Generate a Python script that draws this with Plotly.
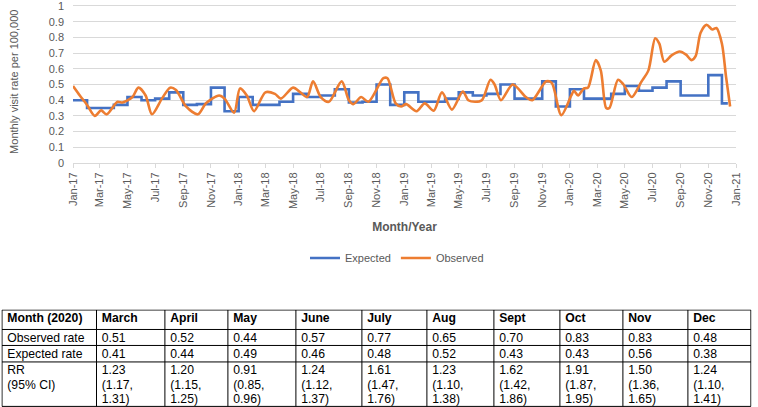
"""
Monthly visit rate per 100,000: expected vs observed (2017-2020),
with the 2020 rate ratio table underneath.
"""

import plotly.graph_objects as go

# ---- line chart data -------------------------------------------------------
month_starts = [f"{y}-{m:02d}-01" for y in range(2017, 2021) for m in range(1, 13)]

expected_monthly = [
    0.40, 0.35, 0.35, 0.37, 0.42, 0.40, 0.41, 0.45, 0.37, 0.375, 0.48, 0.33,  # 2017
    0.42, 0.37, 0.37, 0.39, 0.44, 0.42, 0.43, 0.47, 0.385, 0.39, 0.50, 0.37,  # 2018
    0.45, 0.39, 0.39, 0.41, 0.45, 0.43, 0.44, 0.50, 0.41, 0.41, 0.52, 0.36,   # 2019
    0.47, 0.41, 0.41, 0.44, 0.49, 0.46, 0.48, 0.52, 0.43, 0.43, 0.56, 0.38,   # 2020
]
expected_end = "2020-12-14"   # last week with data

observed_dates = [
    "2017-01-01", "2017-01-16", "2017-02-01", "2017-02-18", "2017-03-04", "2017-03-16",
    "2017-04-09", "2017-04-20", "2017-05-12", "2017-05-25", "2017-06-10", "2017-06-24",
    "2017-07-16", "2017-08-03", "2017-08-16", "2017-09-07", "2017-10-03", "2017-10-21",
    "2017-11-19", "2017-12-01", "2017-12-22",
    "2018-01-04", "2018-01-19", "2018-02-04", "2018-03-01", "2018-03-22", "2018-04-04",
    "2018-05-01", "2018-05-17", "2018-06-01", "2018-06-14", "2018-07-01", "2018-07-19",
    "2018-08-16", "2018-09-01", "2018-09-11", "2018-09-28", "2018-10-14", "2018-11-16",
    "2018-11-25", "2018-12-13", "2018-12-25",
    "2019-01-05", "2019-01-28", "2019-02-15", "2019-03-07", "2019-03-25", "2019-04-16",
    "2019-05-10", "2019-05-22", "2019-06-06", "2019-06-21", "2019-07-10", "2019-07-19",
    "2019-08-02", "2019-08-28", "2019-09-26", "2019-10-10", "2019-11-10", "2019-11-22",
    "2019-12-13",
    "2020-01-04", "2020-01-10", "2020-01-19", "2020-02-01", "2020-02-10", "2020-02-27",
    "2020-03-09", "2020-03-21", "2020-03-28", "2020-04-16", "2020-04-28", "2020-05-16",
    "2020-06-07", "2020-06-22", "2020-07-07", "2020-07-16", "2020-07-27", "2020-08-12",
    "2020-08-30", "2020-09-13", "2020-09-25", "2020-10-04", "2020-10-15", "2020-10-28",
    "2020-11-10", "2020-11-19", "2020-12-01", "2020-12-10", "2020-12-19",
]
observed_values = [
    0.49, 0.43, 0.37, 0.30, 0.335, 0.31,
    0.39, 0.385, 0.42, 0.48, 0.43, 0.31,
    0.41, 0.48, 0.465, 0.36, 0.31, 0.38,
    0.43, 0.41, 0.32,
    0.475, 0.43, 0.33, 0.45, 0.44, 0.41,
    0.48, 0.45, 0.42, 0.52, 0.42, 0.39,
    0.52, 0.40, 0.375, 0.42, 0.39, 0.54,
    0.54, 0.38, 0.36,
    0.375, 0.33, 0.38, 0.333, 0.45, 0.34,
    0.455, 0.40, 0.39, 0.40, 0.53, 0.50,
    0.40, 0.50, 0.42, 0.40, 0.52, 0.51,
    0.305,
    0.43, 0.46, 0.43, 0.475, 0.48, 0.655,
    0.59, 0.35, 0.35, 0.53, 0.50, 0.42,
    0.52, 0.59, 0.795, 0.76, 0.645, 0.685,
    0.71, 0.69, 0.655, 0.68, 0.83, 0.88,
    0.85, 0.86, 0.76, 0.55, 0.36,
]

# ---- table data ------------------------------------------------------------
table_months = ["March", "April", "May", "June", "July", "Aug", "Sept", "Oct", "Nov", "Dec"]
observed_rate = [0.51, 0.52, 0.44, 0.57, 0.77, 0.65, 0.70, 0.83, 0.83, 0.48]
expected_rate = [0.41, 0.44, 0.49, 0.46, 0.48, 0.52, 0.43, 0.43, 0.56, 0.38]
rr = [1.23, 1.20, 0.91, 1.24, 1.61, 1.23, 1.62, 1.91, 1.50, 1.24]
rr_low = [1.17, 1.15, 0.85, 1.12, 1.47, 1.10, 1.42, 1.87, 1.36, 1.10]
rr_high = [1.31, 1.25, 0.96, 1.37, 1.76, 1.38, 1.86, 1.95, 1.65, 1.41]

# ---- styling ---------------------------------------------------------------
BLUE = "#4472C4"
ORANGE = "#ED7D31"
TEXT = "#595959"
GRID = "#D9D9D9"
FONT = "Liberation Sans, Arial, sans-serif"

W, H = 758, 407
PLOT_L, PLOT_R, PLOT_BOTTOM = 73, 736, 163     # px
PX_PER_UNIT = 157                              # px for 1.0 on the y axis
Y_MAX = 1.035
TABLE_TOP = 310
COL_W = [94.5, 68.4, 63, 68, 66, 65, 67, 66, 63, 65, 63]
ROW_H = [19.5, 16, 16.5, 44.5]
PAD_X, PAD_Y, LINE_H = 5.3, 3, 14.5

fig = go.Figure()

# expected: one level per month
fig.add_trace(go.Scatter(
    x=month_starts + [expected_end],
    y=expected_monthly + [expected_monthly[-1]],
    mode="lines",
    name="Expected",
    line=dict(color=BLUE, width=2.6, shape="hv"),
    hoverinfo="skip",
))

# observed: smoothed line
fig.add_trace(go.Scatter(
    x=observed_dates,
    y=observed_values,
    mode="lines",
    name="Observed",
    line=dict(color=ORANGE, width=2.6, shape="spline", smoothing=0.8),
    hoverinfo="skip",
))

# ---- table on its own pixel-unit axes --------------------------------------
header = ["<b>Month (2020)</b>"] + [f"<b>{m}</b>" for m in table_months]
columns = [["Observed rate", "Expected rate", "RR<br>(95% CI)"]]
for o, e, r, lo, hi in zip(observed_rate, expected_rate, rr, rr_low, rr_high):
    columns.append([f"{o:.2f}", f"{e:.2f}", f"{r:.2f}<br>({lo:.2f},<br>{hi:.2f})"])

col_edges = [0]
for w in COL_W:
    col_edges.append(col_edges[-1] + w)
row_edges = [0]
for h in ROW_H:
    row_edges.append(row_edges[-1] + h)
table_w, table_h = col_edges[-1], row_edges[-1]

grid_x, grid_y = [], []
for ry in row_edges:
    grid_x += [0, table_w, None]
    grid_y += [ry, ry, None]
for cx in col_edges:
    grid_x += [cx, cx, None]
    grid_y += [0, table_h, None]

fig.add_trace(go.Scatter(
    x=grid_x, y=grid_y, xaxis="x2", yaxis="y2",
    mode="lines", line=dict(color="black", width=1),
    showlegend=False, hoverinfo="skip",
))

txt_x, txt_y, txt = [], [], []
rows = [header] + [[col[i] for col in columns] for i in range(3)]
for ri, row in enumerate(rows):
    for ci, cell in enumerate(row):
        for li, line in enumerate(cell.split("<br>")):
            txt_x.append(col_edges[ci] + PAD_X)
            txt_y.append(row_edges[ri] + PAD_Y + li * LINE_H)
            txt.append(line)

fig.add_trace(go.Scatter(
    x=txt_x, y=txt_y, text=txt, xaxis="x2", yaxis="y2",
    mode="text", textposition="bottom right",
    textfont=dict(family=FONT, size=12.2, color="black"),
    showlegend=False, hoverinfo="skip",
))

plot_top = PLOT_BOTTOM - Y_MAX * PX_PER_UNIT

fig.update_layout(
    width=W, height=H,
    margin=dict(l=0, r=0, t=0, b=0),
    paper_bgcolor="white",
    plot_bgcolor="white",
    font=dict(family=FONT, size=11, color=TEXT),
    showlegend=True,
    legend=dict(
        orientation="h",
        x=397 / W, xanchor="center",
        y=1 - 258 / H, yanchor="middle",
        font=dict(size=11, color=TEXT),
        itemwidth=30,
    ),
    xaxis=dict(
        domain=[PLOT_L / W, PLOT_R / W],
        type="date",
        range=["2017-01-01", "2021-01-01"],
        dtick="M2",
        tick0="2017-01-01",
        tickformat="%b-%y",
        tickangle=-90,
        ticks="outside",
        ticklen=4,
        tickcolor=GRID,
        showline=True,
        linecolor=GRID,
        showgrid=False,
        automargin=False,
        fixedrange=True,
        tickfont=dict(size=11, color=TEXT),
        title=dict(text="<b>Month/Year</b>", font=dict(size=12, color=TEXT), standoff=14),
    ),
    yaxis=dict(
        domain=[1 - PLOT_BOTTOM / H, 1 - max(plot_top, 0) / H],
        range=[0, Y_MAX],
        tick0=0,
        dtick=0.1,
        ticklabeloverflow="allow",
        showgrid=True,
        gridcolor=GRID,
        zeroline=False,
        showline=False,
        automargin=False,
        fixedrange=True,
        ticklabelstandoff=8,
        tickfont=dict(size=11, color=TEXT),
        title=dict(text="Monthly visit rate per 100,000", font=dict(size=11, color=TEXT), standoff=27),
    ),
    xaxis2=dict(
        domain=[1.4 / W, (1.4 + table_w + 1.2) / W], range=[-0.6, table_w + 0.6],
        visible=False, fixedrange=True, anchor="y2",
    ),
    yaxis2=dict(
        domain=[0, 1 - (TABLE_TOP - 0.6) / H], range=[table_h + 0.6, -0.6],
        visible=False, fixedrange=True, anchor="x2",
    ),
)

fig.write_html(
    "out.html",
    config={"displayModeBar": False},
    post_script="document.body.style.margin='0px';",
)
